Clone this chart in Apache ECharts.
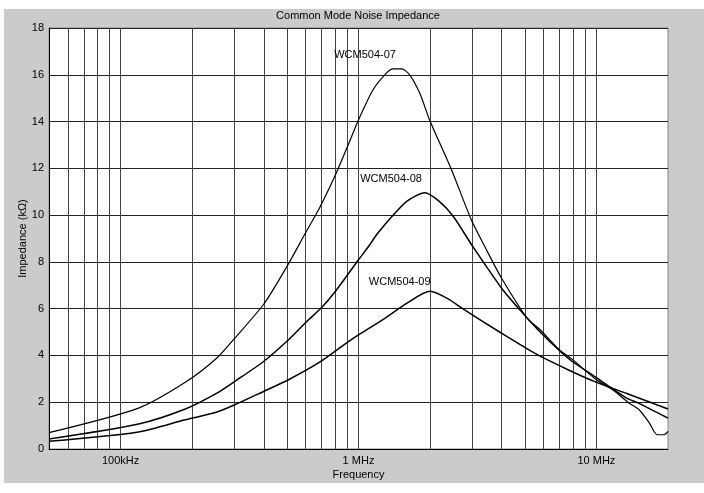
<!DOCTYPE html>
<html>
<head>
<meta charset="utf-8">
<script src="https://cdn.jsdelivr.net/npm/echarts@6/dist/echarts.min.js"></script>
<style>html,body{margin:0;padding:0;background:#fff;}#c{width:704px;height:493px;}</style>
</head>
<body>
<div id="c"></div>
<script>
var chartTitle = 'Common Mode Noise Impedance';
var xName = 'Frequency';
var yName = 'Impedance (kΩ)';
var seriesNames = ['WCM504-07', 'WCM504-08', 'WCM504-09'];

var freqs07 = [50e3, 119e3, 187e3, 254e3, 302e3, 400e3, 500e3, 596e3, 689e3, 794e3, 892e3, 1.0e6, 1.15e6, 1.31e6, 1.40e6, 1.52e6, 1.64e6, 1.81e6, 1.99e6, 2.46e6, 2.98e6, 3.45e6, 3.99e6, 5.11e6, 5.8e6, 7.0e6, 7.95e6, 10.0e6, 11.7e6, 13.7e6, 15.1e6, 16.7e6, 18.0e6, 19.3e6, 20e6];
var imp07 = [0.70, 1.75, 2.85, 3.89, 4.74, 6.2, 7.80, 9.2, 10.35, 11.65, 12.85, 14.07, 15.35, 16.07, 16.25, 16.25, 16.0, 15.21, 14.07, 11.94, 9.8, 8.52, 7.31, 5.6, 5.1, 4.24, 3.82, 2.96, 2.53, 1.97, 1.69, 1.11, 0.61, 0.61, 0.75];

var freqs08 = [50e3, 119e3, 187e3, 254e3, 302e3, 399e3, 508e3, 606e3, 700e3, 794e3, 1.0e6, 1.11e6, 1.2e6, 1.4e6, 1.6e6, 1.9e6, 2.18e6, 2.5e6, 3.02e6, 3.45e6, 4.04e6, 4.9e6, 5.8e6, 7.0e6, 7.95e6, 10e6, 13.3e6, 15.1e6, 20e6];
var imp08 = [0.43, 1.07, 1.71, 2.39, 2.89, 3.74, 4.67, 5.45, 6.05, 6.7, 8.09, 8.7, 9.2, 10.0, 10.6, 10.96, 10.6, 9.95, 8.66, 7.8, 6.81, 5.81, 5.0, 4.2, 3.73, 3.05, 2.2, 1.95, 1.32];

var freqs09 = [50e3, 119e3, 187e3, 254e3, 302e3, 399e3, 508e3, 689e3, 939e3, 1.295e6, 1.6e6, 2.0e6, 2.4e6, 2.71e6, 3.98e6, 5.5e6, 7.6e6, 9.8e6, 13.5e6, 20e6];
var imp09 = [0.33, 0.73, 1.25, 1.58, 1.89, 2.46, 2.96, 3.72, 4.7, 5.6, 6.24, 6.74, 6.4, 6.03, 4.96, 4.1, 3.39, 2.89, 2.36, 1.71];

// label anchor positions (frequency, impedance)
var labelFreqs = [1.066e6, 1.37e6, 1.49e6];
var labelImps = [16.85, 11.55, 7.15];

// vertical grid lines (1-2-3...9 per decade)
var gridFreqs = [60e3, 70e3, 80e3, 90e3, 100e3, 200e3, 300e3, 400e3, 500e3, 600e3, 700e3, 800e3, 900e3, 1e6, 2e6, 3e6, 4e6, 5e6, 6e6, 7e6, 8e6, 9e6, 10e6];
var xTickLabels = {'5': '100kHz', '6': '1 MHz', '7': '10 MHz'};

function zip(a, b) { return a.map(function (v, i) { return [v, b[i]]; }); }
var allF = [freqs07, freqs08, freqs09];
var allI = [imp07, imp08, imp09];

var FONT = 'Liberation Sans';
var series = seriesNames.map(function (n, k) {
  return {
    name: n, type: 'line', data: zip(allF[k], allI[k]),
    showSymbol: false, smooth: 0.25, z: 5,
    lineStyle: { color: '#000', width: k === 0 ? 1.2 : 1.5 },
    markPoint: {
      symbol: 'circle', symbolSize: 0,
      data: [{ coord: [labelFreqs[k], labelImps[k]] }],
      label: { show: true, formatter: n, color: '#000', fontFamily: FONT, fontSize: 11, position: 'inside' }
    }
  };
});
series.push({
  type: 'line', data: [], z: 1, silent: true,
  markLine: {
    silent: true, symbol: ['none', 'none'], animation: false,
    label: { show: false },
    lineStyle: { color: '#444', width: 1, type: 'solid' },
    data: gridFreqs.map(function (f) { return { xAxis: f }; })
  }
});

var chart = echarts.init(document.getElementById('c'), null, { renderer: 'canvas' });
chart.setOption({
  animation: false,
  backgroundColor: '#fff',
  graphic: [{ type: 'rect', shape: { x: 4, y: 9, width: 700, height: 474 }, style: { fill: '#cbcbcb' }, z: -10 }],
  title: { text: chartTitle, left: 358, top: 10, padding: 0, textAlign: 'center', textStyle: { fontFamily: FONT, fontSize: 11, fontWeight: 'normal', color: '#000' } },
  grid: { left: 49, top: 28, right: 36, bottom: 44, show: true, backgroundColor: '#fff', borderColor: '#888', borderWidth: 1 },
  xAxis: {
    type: 'log', logBase: 10, min: 50000, max: 20000000,
    name: xName, nameLocation: 'middle', nameGap: 20, nameMoveOverlap: false,
    nameTextStyle: { fontFamily: FONT, fontSize: 11, color: '#000' },
    axisLine: { lineStyle: { color: '#000' } },
    axisTick: { show: false },
    splitLine: { show: false },
    axisLabel: {
      fontFamily: FONT, fontSize: 11, color: '#000', margin: 6,
      showMinLabel: false, showMaxLabel: false,
      formatter: function (v) { var e = Math.round(Math.log10(v) * 1000) / 1000; return xTickLabels[String(e)] || ''; }
    }
  },
  yAxis: {
    type: 'value', min: 0, max: 18, interval: 2,
    name: yName, nameLocation: 'middle', nameGap: 21, nameMoveOverlap: false,
    nameTextStyle: { fontFamily: FONT, fontSize: 11, color: '#000' },
    axisLine: { show: true, lineStyle: { color: '#000' } },
    axisTick: { show: false },
    splitLine: { lineStyle: { color: '#222', width: 1 } },
    axisLabel: { fontFamily: FONT, fontSize: 11, color: '#000', margin: 5 }
  },
  series: series
});
</script>
</body>
</html>
